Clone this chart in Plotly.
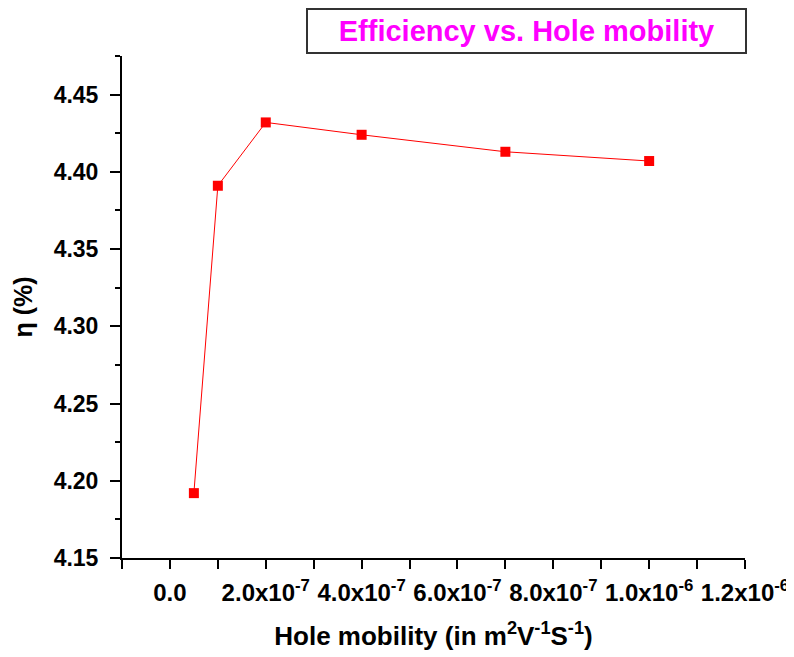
import plotly.graph_objects as go

mobility = [5e-8, 1e-7, 2e-7, 4e-7, 7e-7, 1e-6]
efficiency = [4.192, 4.391, 4.432, 4.424, 4.413, 4.407]

x_tickvals = [-1e-7, 0, 1e-7, 2e-7, 3e-7, 4e-7, 5e-7, 6e-7, 7e-7, 8e-7, 9e-7, 1e-6, 1.1e-6, 1.2e-6]
x_ticktext = ["", "0.0", "", "2.0x10<sup>-7</sup>", "", "4.0x10<sup>-7</sup>", "",
              "6.0x10<sup>-7</sup>", "", "8.0x10<sup>-7</sup>", "", "1.0x10<sup>-6</sup>", "",
              "1.2x10<sup>-6</sup>"]
y_tickvals = [4.15, 4.20, 4.25, 4.30, 4.35, 4.40, 4.45]
y_ticktext = ["4.15", "4.20", "4.25", "4.30", "4.35", "4.40", "4.45"]
y_minor = [4.175, 4.225, 4.275, 4.325, 4.375, 4.425, 4.475]

sans = "Liberation Sans, Arial, sans-serif"

fig = go.Figure()
fig.add_trace(go.Scatter(
    x=mobility, y=efficiency, mode="lines+markers",
    line=dict(color="#ff0000", width=1),
    marker=dict(symbol="square", size=10, color="#ff0000"),
    showlegend=False,
))

fig.update_layout(
    width=794, height=657,
    margin=dict(l=114, r=57, t=48, b=107),
    paper_bgcolor="white", plot_bgcolor="white",
    xaxis=dict(
        range=[-1e-7, 1.2e-6], tickmode="array", tickvals=x_tickvals, ticktext=x_ticktext,
        ticks="outside", ticklen=9, tickwidth=1.5, tickcolor="black", tickangle=0,
        showline=True, linecolor="black", linewidth=2, showgrid=False, zeroline=False,
        tickfont=dict(family=sans, size=24, color="black", weight="bold"),
        ticklabelstandoff=3,
        title=dict(text="Hole mobility (in m<sup>2</sup>V<sup>-1</sup>S<sup>-1</sup>)",
                   font=dict(family=sans, size=26, color="black", weight="bold"), standoff=22),
    ),
    yaxis=dict(
        range=[4.15, 4.475], tickmode="array", tickvals=y_tickvals, ticktext=y_ticktext,
        ticks="outside", ticklen=10, tickwidth=1.5, tickcolor="black",
        minor=dict(tickvals=y_minor, ticks="outside", ticklen=5, tickwidth=1.5, tickcolor="black"),
        showline=True, linecolor="black", linewidth=2, showgrid=False, zeroline=False,
        tickfont=dict(family=sans, size=23, color="black", weight="bold"),
        ticklabelstandoff=7,
        title=dict(text="η (%)", font=dict(family=sans, size=25, color="black", weight="bold"),
                   standoff=14),
    ),
    annotations=[dict(
        xref="paper", yref="paper", x=(298 - 114) / 623, y=1 + 48 / 502,
        xanchor="left", yanchor="top",
        text="Efficiency vs. Hole mobility", showarrow=False,
        font=dict(family=sans, size=29, color="#ff00ff", weight="bold"),
        bordercolor="#333333", borderwidth=2, bgcolor="white",
        width=435, height=40, align="center",
    )],
)

fig.write_html("out.html")
